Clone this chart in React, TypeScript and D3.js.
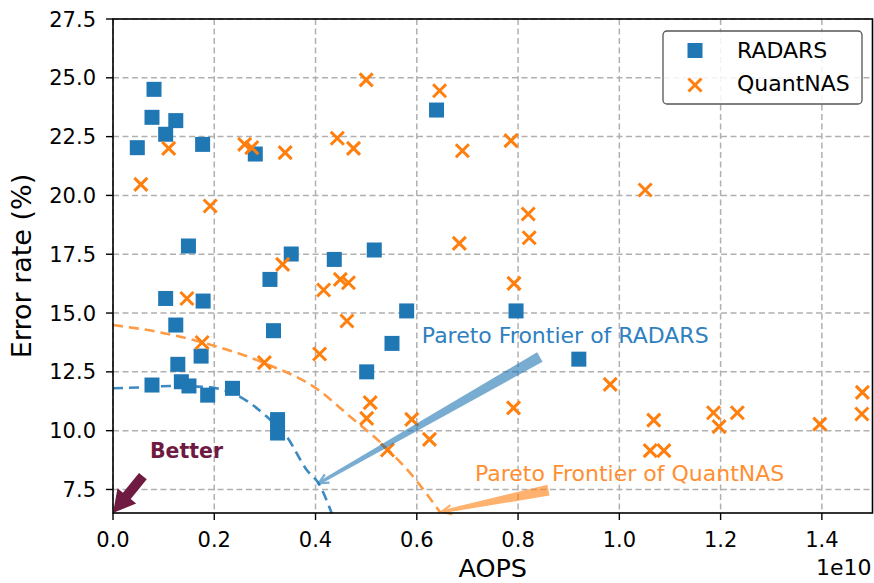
import React from 'react';
import * as d3 from 'd3';

// AOPS values are in units of 1e10 (matplotlib offset label)
const radarsX = [0.048, 0.081, 0.077, 0.124, 0.104, 0.177, 0.281, 0.149, 0.352, 0.310, 0.104, 0.178, 0.124, 0.317, 0.174, 0.128, 0.077, 0.135, 0.150, 0.187, 0.236, 0.325, 0.325, 0.501, 0.551, 0.580, 0.796, 0.920, 0.639, 0.437, 0.516];
const radarsY = [22.03, 24.51, 23.32, 23.18, 22.60, 22.17, 21.76, 17.85, 17.51, 16.43, 15.62, 15.51, 14.49, 14.25, 13.17, 12.82, 11.94, 12.08, 11.90, 11.51, 11.80, 10.47, 9.90, 12.50, 13.71, 15.09, 15.09, 13.04, 23.63, 17.28, 17.68];

const quantX = [0.055, 0.110, 0.192, 0.260, 0.274, 0.340, 0.335, 0.146, 0.176, 0.299, 0.500, 0.645, 0.443, 0.475, 0.690, 0.786, 0.820, 0.822, 0.684, 0.792, 0.416, 0.449, 0.465, 0.462, 0.408, 0.508, 0.501, 0.590, 0.625, 0.542, 0.791, 0.982, 1.068, 1.061, 1.088, 1.186, 1.197, 1.233, 1.396, 1.480, 1.479, 1.051];
const quantY = [20.47, 22.00, 19.55, 22.17, 22.03, 21.82, 17.07, 15.62, 13.75, 12.89, 24.91, 24.45, 22.43, 22.00, 21.90, 22.33, 19.21, 18.20, 17.96, 16.26, 15.98, 16.43, 16.29, 14.66, 13.26, 11.19, 10.52, 10.48, 9.63, 9.18, 10.97, 11.97, 10.45, 9.15, 9.15, 10.76, 10.17, 10.76, 10.28, 11.63, 10.71, 20.23];

// hand-drawn pareto frontier curves
const radarsFrontX = [0, 0.054, 0.119, 0.192, 0.251, 0.304, 0.343, 0.383, 0.406, 0.432];
const radarsFrontY = [11.80, 11.84, 11.90, 11.84, 11.44, 10.59, 9.75, 8.32, 7.76, 6.49];
const quantFrontX = [0, 0.093, 0.172, 0.297, 0.403, 0.465, 0.541, 0.593, 0.646];
const quantFrontY = [14.49, 14.18, 13.78, 12.89, 11.77, 10.66, 9.24, 8.04, 6.53];

const xTicks = [0, 0.2, 0.4, 0.6, 0.8, 1.0, 1.2, 1.4];
const yTicks = [7.5, 10.0, 12.5, 15.0, 17.5, 20.0, 22.5, 25.0, 27.5];

// annotations: [tailX, tailY, tipX, tipY] in data units
const radarsArrow = [0.843, 13.13, 0.406, 7.76];
const quantArrow = [0.860, 7.47, 0.649, 6.55];
const betterArrow = [0.059, 8.07, 0.0, 6.5];

const W = 874, H = 583;
const margin = { top: 19, right: 1, bottom: 70, left: 113 };

const BLUE = '#1f77b4';
const ORANGE = '#ff7f0e';
const MAROON = '#6f1a40';
const FONT = 'DejaVu Sans, sans-serif';

function wedge(x0: number, y0: number, x1: number, y1: number, w0: number, w1: number) {
  const dx = x1 - x0, dy = y1 - y0;
  const len = Math.hypot(dx, dy);
  const nx = -dy / len, ny = dx / len;
  return [
    [x0 + nx * w0, y0 + ny * w0],
    [x1 + nx * w1, y1 + ny * w1],
    [x1 - nx * w1, y1 - ny * w1],
    [x0 - nx * w0, y0 - ny * w0],
  ].map(p => p.join(',')).join(' ');
}

function head(x0: number, y0: number, x1: number, y1: number, l: number, a: number) {
  const ang = Math.atan2(y0 - y1, x0 - x1);
  const p1 = [x1 + l * Math.cos(ang + a), y1 + l * Math.sin(ang + a)];
  const p2 = [x1 + l * Math.cos(ang - a), y1 + l * Math.sin(ang - a)];
  return `M${p1[0]},${p1[1]}L${x1},${y1}L${p2[0]},${p2[1]}`;
}

function blockArrow(x0: number, y0: number, x1: number, y1: number) {
  const dx = x1 - x0, dy = y1 - y0;
  const L = Math.hypot(dx, dy);
  const ux = dx / L, uy = dy / L, nx = -uy, ny = ux;
  const hl = 22, hw = 12, sw = 5;
  const pts = [
    [0, sw], [L - hl, sw], [L - hl, hw], [L, 0], [L - hl, -hw], [L - hl, -sw], [0, -sw],
  ];
  return pts.map(([a, b]) => `${x0 + ux * a + nx * b},${y0 + uy * a + ny * b}`).join(' ');
}

export default function App() {
  const x = d3.scaleLinear().domain([0, 1.5]).range([margin.left, W - margin.right - 0.5]);
  const y = d3.scaleLinear().domain([6.5, 27.5]).range([H - margin.bottom, margin.top]);
  const fmt = d3.format('.1f');

  const frontPath = (xs: number[], ys: number[]) =>
    d3.line<number>().x(i => x(xs[i])).y(i => y(ys[i])).curve(d3.curveMonotoneX)(xs.map((_, i) => i)) || '';

  const [rax0, ray0, rax1, ray1] = [x(radarsArrow[0]), y(radarsArrow[1]), x(radarsArrow[2]), y(radarsArrow[3])];
  const [qax0, qay0, qax1, qay1] = [x(quantArrow[0]), y(quantArrow[1]), x(quantArrow[2]), y(quantArrow[3])];
  const [bax0, bay0, bax1, bay1] = [x(betterArrow[0]), y(betterArrow[1]), x(betterArrow[2]), y(betterArrow[3])];

  const x0 = margin.left, x1 = W - margin.right - 0.5, y0 = margin.top, y1 = H - margin.bottom;

  return (
    <div>
      <style>{'body{margin:0}'}</style>
      <svg width={W} height={H} style={{ display: 'block', background: '#fff' }} fontFamily={FONT}>
        {/* grid */}
        <g stroke="#b0b0b0" strokeWidth={1.5} strokeDasharray="6,3.5">
          {xTicks.map(t => <line key={'gx' + t} x1={x(t)} x2={x(t)} y1={y0} y2={y1} />)}
          {yTicks.map(t => <line key={'gy' + t} x1={x0} x2={x1} y1={y(t)} y2={y(t)} />)}
        </g>

        {/* pareto frontiers */}
        <path d={frontPath(radarsFrontX, radarsFrontY)} fill="none" stroke="#3d8ac2" strokeWidth={2.6} strokeDasharray="10,6" />
        <path d={frontPath(quantFrontX, quantFrontY)} fill="none" stroke="#ff9a45" strokeWidth={2.6} strokeDasharray="10,6" />

        {/* RADARS squares */}
        <g fill={BLUE}>
          {radarsX.map((v, i) => (
            <rect key={'r' + i} x={x(v) - 7.5} y={y(radarsY[i]) - 7.5} width={15} height={15} />
          ))}
        </g>
        {/* QuantNAS crosses */}
        <g stroke={ORANGE} strokeWidth={3}>
          {quantX.map((v, i) => {
            const cx = x(v), cy = y(quantY[i]), s = 6.5;
            return <path key={'q' + i} d={`M${cx - s},${cy - s}L${cx + s},${cy + s}M${cx - s},${cy + s}L${cx + s},${cy - s}`} />;
          })}
        </g>

        {/* annotation arrows */}
        <g opacity={0.6}>
          <polygon points={wedge(rax0, ray0, rax1, ray1, 5.5, 1.5)} fill={BLUE} />
          <path d={head(rax0, ray0, rax1, ray1, 11, 0.45)} fill="none" stroke={BLUE} strokeWidth={2.2} />
          <polygon points={wedge(qax0, qay0, qax1, qay1, 5.5, 1.5)} fill={ORANGE} />
          <path d={head(qax0, qay0, qax1, qay1, 11, 0.45)} fill="none" stroke={ORANGE} strokeWidth={2.2} />
        </g>
        <polygon points={blockArrow(bax0, bay0, bax1, bay1)} fill={MAROON} />

        <text x={x(0.610)} y={y(13.74)} fontSize={22} fill="#2f80bf">Pareto Frontier of RADARS</text>
        <text x={x(0.715)} y={y(7.87)} fontSize={22} fill="#ff8f33">Pareto Frontier of QuantNAS</text>
        <text x={x(0.073)} y={y(8.84)} fontSize={20.5} fontWeight="bold" fill={MAROON}>Better</text>

        {/* spines */}
        <rect x={x0} y={y0} width={x1 - x0} height={y1 - y0} fill="none" stroke="#000" strokeWidth={1.6} />

        {/* x axis */}
        <g fontSize={21} fill="#000" textAnchor="middle">
          {xTicks.map(t => (
            <g key={'xt' + t}>
              <line x1={x(t)} x2={x(t)} y1={y1} y2={y1 + 7} stroke="#000" strokeWidth={1.4} />
              <text x={x(t)} y={y1 + 33.5}>{fmt(t)}</text>
            </g>
          ))}
        </g>
        <text x={x1 - 1} y={575} fontSize={22} textAnchor="end">1e10</text>
        <text x={(x0 + x1) / 2} y={577} fontSize={25.5} textAnchor="middle">AOPS</text>

        {/* y axis */}
        <g fontSize={21} fill="#000" textAnchor="end">
          {yTicks.map(t => (
            <g key={'yt' + t}>
              <line x1={x0 - 7} x2={x0} y1={y(t)} y2={y(t)} stroke="#000" strokeWidth={1.4} />
              <text x={x0 - 17} y={y(t) + 7.5}>{fmt(t)}</text>
            </g>
          ))}
        </g>
        <text transform={`translate(31,${(y0 + y1) / 2}) rotate(-90)`} fontSize={27} textAnchor="middle">Error rate (%)</text>

        {/* legend */}
        <g>
          <rect x={663} y={31} width={199} height={73} rx={4} fill="#fff" fillOpacity={0.85} stroke="#555" strokeWidth={1.3} />
          <rect x={695 - 7.5} y={50.5 - 7.5} width={15} height={15} fill={BLUE} />
          <path d={`M688.5,78.5L701.5,91.5M688.5,91.5L701.5,78.5`} stroke={ORANGE} strokeWidth={3} />
          <text x={737} y={57.5} fontSize={22}>RADARS</text>
          <text x={737} y={91} fontSize={22}>QuantNAS</text>
        </g>
      </svg>
    </div>
  );
}
